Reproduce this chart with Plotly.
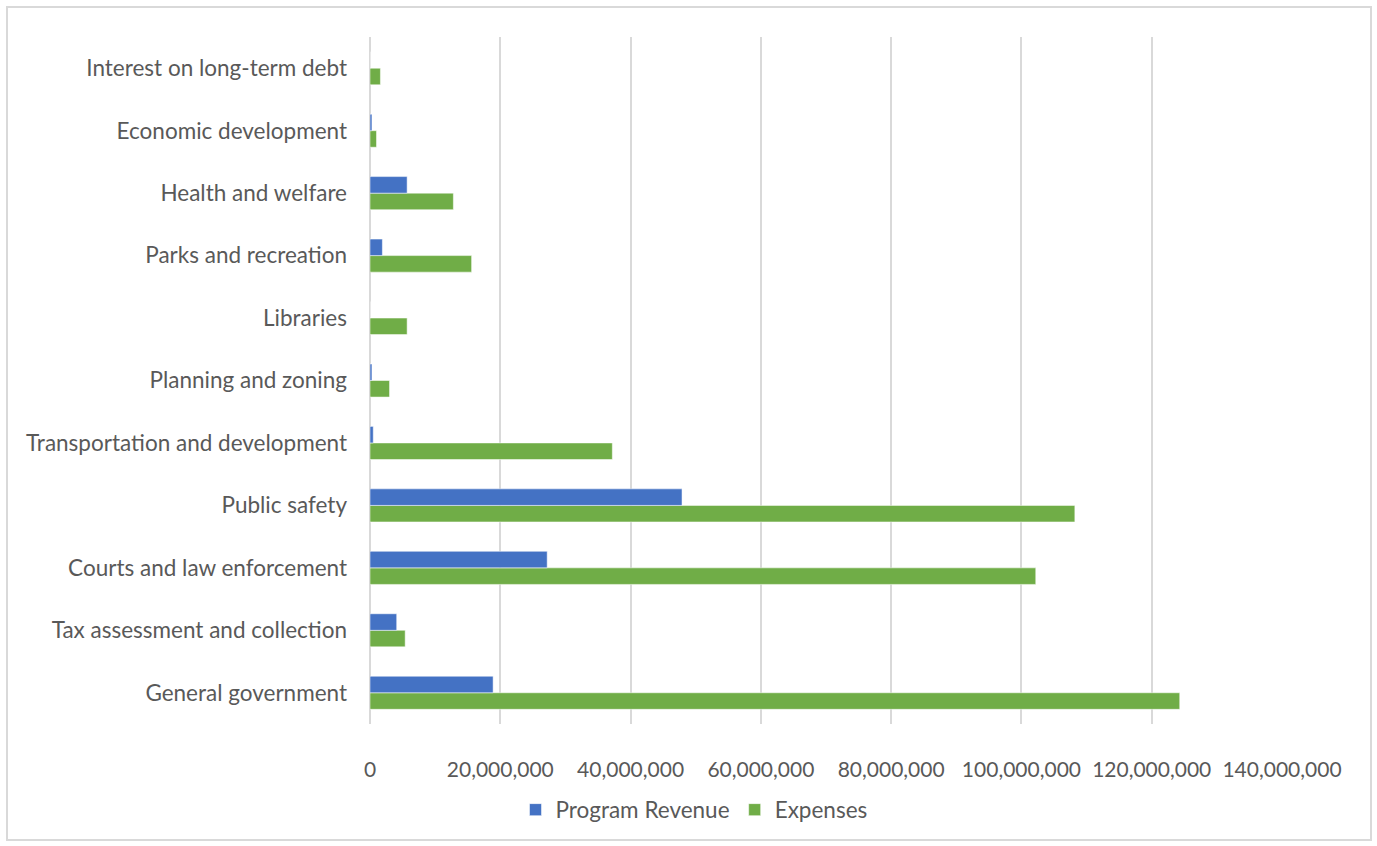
import plotly.graph_objects as go

categories = [
    "General government",
    "Tax assessment and collection",
    "Courts and law enforcement",
    "Public safety",
    "Transportation and development",
    "Planning and zoning",
    "Libraries",
    "Parks and recreation",
    "Health and welfare",
    "Economic development",
    "Interest on long-term debt",
]
program_revenue = [18900000, 4100000, 27200000, 47900000, 500000, 300000, 0,
                   1900000, 5700000, 300000, 0]
expenses = [124300000, 5400000, 102200000, 108200000, 37200000, 3000000,
            5700000, 15600000, 12800000, 1000000, 1600000]
tick_vals = [0, 20000000, 40000000, 60000000, 80000000, 100000000, 120000000, 140000000]
tick_text = ["0", "20,000,000", "40,000,000", "60,000,000", "80,000,000",
             "100,000,000", "120,000,000", "140,000,000"]

W, H = 1377, 846
L, R, T, B = 370, 95, 37, 122
pw, ph = W - L - R, H - T - B

font_fam = "Lato, Open Sans, sans-serif"
txt_col = "#595959"
fs = 21
fs_cat = 22.5

fig = go.Figure()
fig.add_trace(go.Bar(
    y=categories, x=expenses, orientation="h", name="Expenses",
    marker=dict(color="#70AD47", line=dict(color="rgba(255,255,255,0.5)", width=1)),
    legendrank=2,
))
fig.add_trace(go.Bar(
    y=categories, x=program_revenue, orientation="h", name="Program Revenue",
    marker=dict(color="#4472C4", line=dict(color="rgba(255,255,255,0.5)", width=1)),
    legendrank=1,
))

def px_x(p):
    return (p - L) / pw

def px_y(p):
    return (H - B - p) / ph

fig.update_layout(
    width=W, height=H,
    margin=dict(l=L, r=R, t=T, b=B),
    paper_bgcolor="white", plot_bgcolor="white",
    barmode="group", bargap=0.47, bargroupgap=0,
    font=dict(family=font_fam, size=fs, color=txt_col),
    xaxis=dict(
        range=[0, 140000000], tickvals=tick_vals, ticktext=tick_text,
        showgrid=True, gridcolor="#d9d9d9", gridwidth=2,
        zeroline=True, zerolinecolor="#d9d9d9", zerolinewidth=2,
        showline=False, ticks="", ticklabelstandoff=31,
        tickfont=dict(size=fs, color=txt_col), fixedrange=True,
    ),
    yaxis=dict(
        categoryorder="array", categoryarray=categories,
        showgrid=False, zeroline=False, showline=False, ticks="",
        ticklabelstandoff=22, tickfont=dict(size=fs_cat, color=txt_col),
        fixedrange=True,
    ),
    showlegend=True,
    legend=dict(
        orientation="h", x=px_x(694), xanchor="center",
        y=px_y(810), yanchor="middle",
        font=dict(size=fs_cat, color=txt_col), itemwidth=30,
        bgcolor="rgba(0,0,0,0)",
    ),
    shapes=[dict(
        type="rect", xref="paper", yref="paper",
        x0=px_x(7), x1=px_x(1371), y0=px_y(840), y1=px_y(7),
        line=dict(color="#d9d9d9", width=2), fillcolor="rgba(0,0,0,0)",
        layer="below",
    )],
)

fig.write_html("out.html", config={"displayModeBar": False},
               post_script="document.body.style.margin='0';")
